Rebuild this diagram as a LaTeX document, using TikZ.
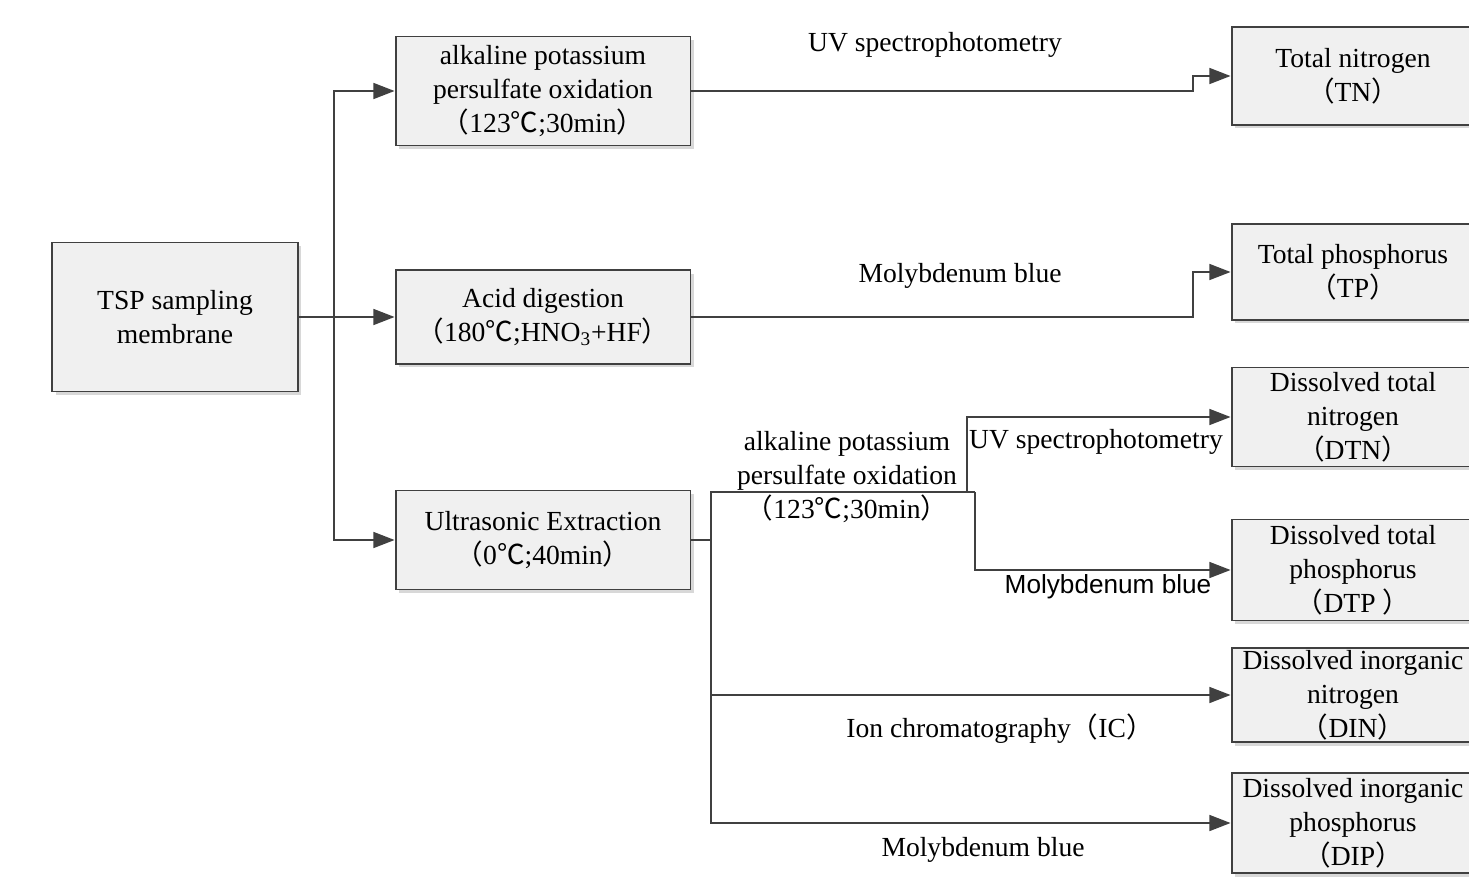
\documentclass[tikz,border=0pt]{standalone}
\usepackage{fontspec}
\setmainfont{Liberation Serif}
\newfontfamily\cjk{Noto Sans CJK SC}
\newfontfamily\sansf{Liberation Sans}
\usetikzlibrary{arrows.meta,shadows}
\newcommand{\fwp}[1]{{\cjk （}#1{\cjk ）}}
\newcommand{\degc}{{\cjk ℃}}
\begin{document}
\begin{tikzpicture}[x=0.02cm,y=-0.02cm,
  font=\fontsize{15.7}{19.4}\selectfont,
  box/.style={draw=black!75,line width=1.1pt,fill=black!6,align=center,inner sep=1pt,
    drop shadow={shadow xshift=0.07cm,shadow yshift=-0.07cm,fill=black!25,opacity=0.6}},
  arr/.style={draw=black!75,line width=1.1pt,-{Triangle[length=12pt,width=9pt]}},
  ln/.style={draw=black!75,line width=1.1pt}]
\clip (0,0) rectangle (1469,882);
\fill[white] (0,0) rectangle (1469,882);
% left column
\node (tsp)[box,minimum width=4.92cm,minimum height=2.98cm] at (175,317) {TSP sampling\\membrane};
\node (oxid)[box,minimum width=5.9cm,minimum height=2.18cm] at (543,91) {alkaline potassium\\persulfate oxidation\\\fwp{123\degc;30min}};
\node (acid)[box,minimum width=5.9cm,minimum height=1.88cm] at (543,317) {Acid digestion\\\fwp{180\degc;HNO\textsubscript{3}+HF}};
\node (ultra)[box,minimum width=5.9cm,minimum height=1.98cm] at (543,540) {Ultrasonic Extraction\\\fwp{0\degc;40min}};
% results
\node (tn)[box,minimum width=4.86cm,minimum height=1.96cm] at (1353,76) {Total nitrogen\\\fwp{TN}};
\node (tp)[box,minimum width=4.86cm,minimum height=1.92cm] at (1353,272) {Total phosphorus\\\fwp{TP}};
\node (dtn)[box,minimum width=4.86cm,minimum height=1.98cm] at (1353,417) {Dissolved total\\nitrogen\\\fwp{DTN}};
\node (dtp)[box,minimum width=4.86cm,minimum height=2.02cm] at (1353,570) {Dissolved total\\phosphorus\\\fwp{DTP }};
\node (din)[box,minimum width=4.86cm,minimum height=1.88cm] at (1353,695) {Dissolved inorganic\\nitrogen\\\fwp{DIN}};
\node (dip)[box,minimum width=4.86cm,minimum height=2.0cm] at (1353,823) {Dissolved inorganic\\phosphorus\\\fwp{DIP}};
% connectors
\coordinate (trunk) at (334,317);
\coordinate (split) at (711,540);
\coordinate (fork) at (711,492);
\draw[arr] (tsp.east) -- (acid.west);
\draw[arr] (trunk) |- (oxid.west);
\draw[arr] (trunk) |- (ultra.west);
\draw[arr] (oxid.east) -- ++(502,0) |- (tn.west);
\draw[arr] (acid.east) -- ++(502,0) |- (tp.west);
\draw[ln] (ultra.east) -- (split) -- (fork) -- ++(264,0) coordinate (forkr);
\draw[arr] (forkr) |- (dtp.west);
\draw[arr] ([xshift=-0.16cm]forkr) |- (dtn.west);
\draw[arr] (split) |- (dip.west);
\draw[arr] (split |- din.west) -- (din.west);
% labels
\node (l1) at (935,45) {UV spectrophotometry};
\node (l2) at (960,276) {Molybdenum blue};
\node (l3)[align=center] at (847,477) {alkaline potassium\\persulfate oxidation\\\fwp{123\degc;30min}};
\node (l4) at (1096,442) {UV spectrophotometry};
\node (l5) at (1108,587) {\sansf\fontsize{14.9}{17}\selectfont Molybdenum blue};
\node (l6) at (1000,729) {Ion chromatography\fwp{IC}};
\node (l7) at (983,850) {Molybdenum blue};
\end{tikzpicture}
\end{document}
